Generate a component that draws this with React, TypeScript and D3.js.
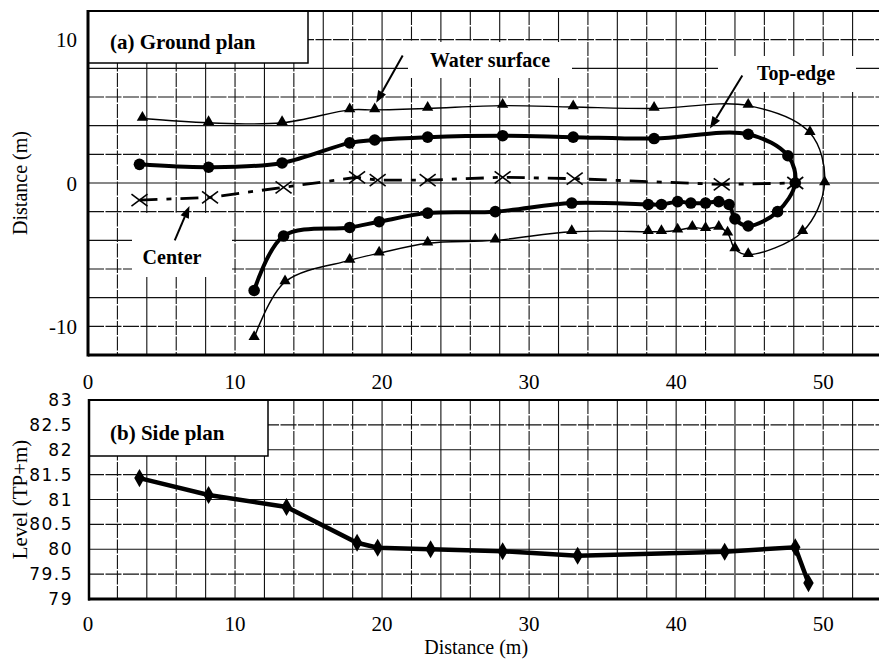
import React from 'react';
import * as d3 from 'd3';

// (a) ground plan, traced around the channel (upper bank left->right, lower bank right->left)
const waterX = [3.7, 8.2, 13.2, 17.8, 19.5, 23.1, 28.2, 33.0, 38.5, 44.9, 49.1, 50.1, 48.6, 44.9, 44.0, 43.5, 42.9, 42.0, 41.1, 40.1, 39.0, 38.1, 32.9, 27.7, 23.1, 19.8, 17.8, 13.4, 11.3];
const waterY = [4.5, 4.2, 4.2, 5.1, 5.1, 5.2, 5.4, 5.3, 5.2, 5.4, 3.5, 0.0, -3.4, -5.0, -4.6, -3.5, -3.1, -3.2, -3.1, -3.3, -3.4, -3.4, -3.4, -4.0, -4.2, -4.9, -5.4, -6.9, -10.8];

const edgeX = [3.5, 8.2, 13.2, 17.8, 19.5, 23.1, 28.2, 33.0, 38.5, 44.9, 47.6, 48.1, 46.9, 44.9, 44.0, 43.6, 42.9, 42.0, 41.0, 40.1, 39.0, 38.1, 32.9, 27.7, 23.1, 19.8, 17.8, 13.3, 11.3];
const edgeY = [1.3, 1.1, 1.4, 2.8, 3.0, 3.2, 3.3, 3.2, 3.1, 3.4, 1.9, 0.0, -2.0, -3.0, -2.5, -1.5, -1.3, -1.4, -1.4, -1.3, -1.5, -1.5, -1.4, -2.0, -2.1, -2.7, -3.1, -3.7, -7.5];

const centerX = [3.5, 8.3, 13.3, 18.3, 19.7, 23.1, 28.2, 33.1, 43.1, 48.1];
const centerY = [-1.2, -1.0, -0.3, 0.4, 0.2, 0.2, 0.4, 0.3, -0.1, 0.0];

// (b) side plan
const sideX = [3.5, 8.2, 13.5, 18.3, 19.7, 23.3, 28.2, 33.3, 43.3, 48.1, 49.0];
const sideLevel = [81.43, 81.09, 80.85, 80.13, 80.03, 80.0, 79.96, 79.87, 79.95, 80.04, 79.32];

const xTicks = [0, 10, 20, 30, 40, 50];
const planTicks = [10, 0, -10];
const levelTicks = [83, 82.5, 82, 81.5, 81, 80.5, 80, 79.5, 79];

const W = 879;
const H = 659;
const serif = "'Liberation Serif', 'Times New Roman', Tinos, 'DejaVu Serif', serif";
const narrow = "'Liberation Sans Narrow', 'Arial Narrow', 'DejaVu Sans', sans-serif";

const x = d3.scaleLinear().domain([0, 54]).range([88, 882]);
const yA = d3.scaleLinear().domain([-12, 12]).range([355, 11]);
const yB = d3.scaleLinear().domain([79, 83]).range([599, 400]);

const zip = (xs: number[], ys: number[]) => xs.map((v, i) => [v, ys[i]] as [number, number]);

const Arrow = ({ x1, y1, x2, y2 }: { x1: number; y1: number; x2: number; y2: number }) => {
  const a = Math.atan2(y2 - y1, x2 - x1);
  const L = 12;
  const w = 4.5;
  const bx = x2 - L * Math.cos(a);
  const by = y2 - L * Math.sin(a);
  const pts = [
    [x2, y2],
    [bx + w * Math.sin(a), by - w * Math.cos(a)],
    [bx - w * Math.sin(a), by + w * Math.cos(a)],
  ];
  return (
    <g>
      <line x1={x1} y1={y1} x2={bx} y2={by} stroke="#000" strokeWidth={2} />
      <polygon points={pts.map(p => p.join(',')).join(' ')} fill="#000" />
    </g>
  );
};

export default function App() {
  const smooth = d3.line<[number, number]>()
    .x(d => x(d[0]))
    .y(d => yA(d[1]))
    .curve(d3.curveCatmullRom.alpha(0.5));
  const straightA = d3.line<[number, number]>().x(d => x(d[0])).y(d => yA(d[1]));
  const straightB = d3.line<[number, number]>().x(d => x(d[0])).y(d => yB(d[1]));

  const water = zip(waterX, waterY);
  const edge = zip(edgeX, edgeY);
  const center = zip(centerX, centerY);
  const side = zip(sideX, sideLevel);

  const tri = d3.symbol().type(d3.symbolTriangle).size(55)() as string;
  const dia = d3.symbol().type(d3.symbolDiamond).size(95)() as string;

  const vGrid = d3.range(2, 54, 2);
  const hGridA = d3.range(-10, 12, 2);
  const hGridB = d3.range(79.5, 83, 0.5);

  const txt = { fontFamily: serif };

  return (
    <svg width={W} height={H} style={{ position: 'absolute', left: 0, top: 0, background: '#fff' }}>
      <rect width={W} height={H} fill="#fff" />

      {/* ---------- (a) Ground plan ---------- */}
      <g stroke="#111" strokeWidth={1.1}>
        {vGrid.map(v => (
          <line key={'va' + v} x1={x(v)} x2={x(v)} y1={yA(12)} y2={yA(-12)} strokeDasharray={v % 4 === 2 ? '14,1.5' : undefined} />
        ))}
        {hGridA.map(v => (
          <line key={'ha' + v} x1={x(0)} x2={W} y1={yA(v)} y2={yA(v)} strokeDasharray={v % 4 === 0 ? undefined : '16,1.5'} />
        ))}
      </g>

      {/* blank areas behind annotations */}
      <rect x={408} y={42} width={164} height={36} fill="#fff" />
      <rect x={718} y={56} width={138} height={36} fill="#fff" />
      <rect x={132} y={213} width={100} height={64} fill="#fff" />

      <path d={smooth(water) ?? ''} fill="none" stroke="#000" strokeWidth={1.4} />
      {water.map((d, i) => (
        <path key={'w' + i} d={tri} transform={`translate(${x(d[0])},${yA(d[1]) - 1})`} fill="#000" />
      ))}

      <path d={smooth(edge) ?? ''} fill="none" stroke="#000" strokeWidth={4} />
      {edge.map((d, i) => (
        <circle key={'e' + i} cx={x(d[0])} cy={yA(d[1])} r={5.8} fill="#000" />
      ))}

      <path d={straightA(center) ?? ''} fill="none" stroke="#000" strokeWidth={2.8} strokeDasharray="18,9,5,9" />
      {center.map((d, i) => {
        const cx = x(d[0]);
        const cy = yA(d[1]);
        return (
          <g key={'c' + i} stroke="#000" strokeWidth={1.6}>
            <line x1={cx - 8} y1={cy - 6} x2={cx + 8} y2={cy + 6} />
            <line x1={cx - 8} y1={cy + 6} x2={cx + 8} y2={cy - 6} />
          </g>
        );
      })}

      {/* annotations */}
      <text x={490} y={67} textAnchor="middle" style={txt} fontWeight="bold" fontSize={20}>Water surface</text>
      <Arrow x1={x(21.4)} y1={yA(8.9)} x2={x(19.6)} y2={yA(5.6)} />
      <text x={796} y={80} textAnchor="middle" style={txt} fontWeight="bold" fontSize={20}>Top-edge</text>
      <Arrow x1={x(44.5)} y1={yA(7.5)} x2={x(42.3)} y2={yA(3.8)} />
      <text x={172} y={264} textAnchor="middle" style={txt} fontWeight="bold" fontSize={20}>Center</text>
      <Arrow x1={x(5.9)} y1={yA(-4.0)} x2={x(6.9)} y2={yA(-1.6)} />

      {/* legend box */}
      <rect x={88} y={11} width={220} height={52} fill="#fff" stroke="#000" strokeWidth={1.5} />
      <text x={110} y={49} style={txt} fontWeight="bold" fontSize={21}>(a) Ground plan</text>

      {/* frame */}
      <line x1={88} x2={W} y1={yA(12)} y2={yA(12)} stroke="#000" strokeWidth={2} />
      <line x1={88} x2={W} y1={yA(-12)} y2={yA(-12)} stroke="#000" strokeWidth={3} />
      <line x1={88} x2={88} y1={yA(12) - 1} y2={yA(-12) + 1.5} stroke="#000" strokeWidth={3} />

      {planTicks.map(t => (
        <text key={'pt' + t} x={77} y={yA(t)} dy="0.36em" textAnchor="end" style={txt} fontSize={21}>{t}</text>
      ))}
      {xTicks.map(t => (
        <text key={'xa' + t} x={x(t)} y={381} dy="0.36em" textAnchor="middle" style={txt} fontSize={21}>{t}</text>
      ))}
      <text transform={`translate(27,${yA(0)}) rotate(-90)`} textAnchor="middle" style={txt} fontSize={20}>Distance (m)</text>

      {/* ---------- (b) Side plan ---------- */}
      <g stroke="#111" strokeWidth={1.1}>
        {vGrid.map(v => (
          <line key={'vb' + v} x1={x(v)} x2={x(v)} y1={yB(83)} y2={yB(79)} strokeDasharray={v % 4 === 2 ? '14,1.5' : undefined} />
        ))}
        {hGridB.map(v => (
          <line key={'hb' + v} x1={x(0)} x2={W} y1={yB(v)} y2={yB(v)} strokeDasharray={v % 1 === 0 ? undefined : '16,1.5'} />
        ))}
      </g>

      <path d={straightB(side) ?? ''} fill="none" stroke="#000" strokeWidth={4.5} />
      {side.map((d, i) => (
        <path key={'s' + i} d={dia} transform={`translate(${x(d[0])},${yB(d[1])})`} fill="#000" />
      ))}

      <rect x={89} y={400} width={179} height={56} fill="#fff" stroke="#000" strokeWidth={1.5} />
      <text x={110} y={440} style={txt} fontWeight="bold" fontSize={21}>(b) Side plan</text>

      <line x1={88} x2={W} y1={yB(83)} y2={yB(83)} stroke="#000" strokeWidth={2} />
      <line x1={88} x2={W} y1={yB(79)} y2={yB(79)} stroke="#000" strokeWidth={3} />
      <line x1={89} x2={89} y1={yB(83) - 1} y2={yB(79) + 1.5} stroke="#000" strokeWidth={2.5} />

      {levelTicks.map(t => (
        <text key={'lt' + t} x={73} y={yB(t)} dy="0.36em" textAnchor="end" style={{ fontFamily: narrow }} fontSize={17} letterSpacing={1.5}>{t}</text>
      ))}
      {xTicks.map(t => (
        <text key={'xb' + t} x={x(t)} y={623} dy="0.36em" textAnchor="middle" style={txt} fontSize={21}>{t}</text>
      ))}
      <text x={x(26.4)} y={647} dy="0.36em" textAnchor="middle" style={txt} fontSize={20}>Distance (m)</text>
      <text transform={`translate(27,${yB(81)}) rotate(-90)`} textAnchor="middle" style={txt} fontSize={21}>Level (TP+m)</text>
    </svg>
  );
}
